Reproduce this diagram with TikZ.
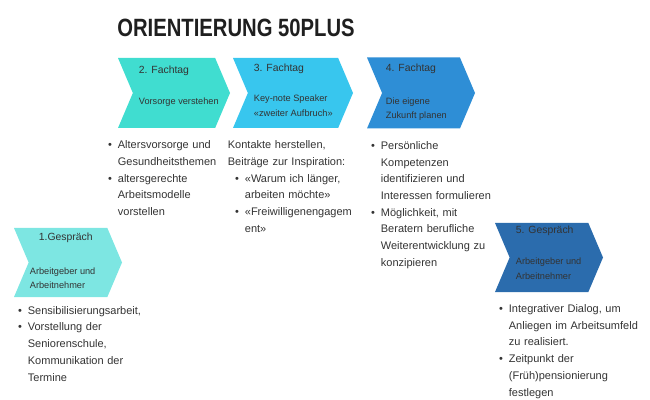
\documentclass[tikz,border=0pt]{standalone}
\usepackage{fontspec}
\setmainfont{Liberation Sans}
\usepackage{graphicx}
\usepackage{enumitem}
\usetikzlibrary{positioning,shapes.symbols}

\definecolor{ink}{HTML}{333333}
\definecolor{turqlight}{HTML}{7DE6E2}
\definecolor{turq}{HTML}{40DDD0}
\definecolor{sky}{HTML}{38C6EE}
\definecolor{azure}{HTML}{2E8ED6}
\definecolor{navy}{HTML}{2B6CAD}

\setlist[itemize]{nosep,leftmargin=10pt,labelsep=6pt,label=\textbullet}

\begin{document}
\begin{tikzpicture}
[x=1pt,y=1pt,node distance=119pt,text=ink,font=\fontsize{11}{16.7}\selectfont]
\tikzstyle{chev}=[signal, signal to=east, signal from=west, signal pointer angle=134, draw=none, inner sep=0pt, minimum width=108pt, minimum height=70pt]
\tikzstyle{head}=[inner sep=0pt, font=\fontsize{10.4}{12}\selectfont]
\tikzstyle{sub}=[inner sep=0pt, align=left, font=\fontsize{9.2}{14.5}\selectfont]
\tikzstyle{list}=[inner sep=0pt, text width=140pt, align=left]

\useasboundingbox (0,0) rectangle (650,399);

\node[font=\bfseries\fontsize{25}{30}\selectfont, text=black!88] (title) at (236,371) {\scalebox{0.81}[1]{ORIENTIERUNG 50PLUS}};

% Fachtage in einer Reihe
\node[chev, fill=turq, minimum width=112pt] (ft_2) at (174,306) {};
\node[chev, fill=sky, minimum width=120pt] (ft_3) [right of = ft_2] {};
\node[chev, fill=azure, minimum height=71pt] (ft_4) [right of = ft_3, node distance = 128pt] {};

% Gespraeche
\node[chev, fill=turqlight, minimum height=69pt] (gs_1) at (68,136.5) {};
\node[chev, fill=navy, minimum height=69pt] (gs_5) at (549,141.5) {};

% Titel und Untertitel in den Pfeilen (base = letzte Zeile)
\node[head] (ft_2_head) [below right = 15.5pt and 21pt of ft_2.north west, anchor=base west] {2. Fachtag};
\node[sub] (ft_2_sub) [below right = 46.5pt and 21pt of ft_2.north west, anchor=base west] {Vorsorge verstehen};
\node[head] (ft_3_head) [below right = 13.5pt and 21pt of ft_3.north west, anchor=base west] {3. Fachtag};
\node[sub, font=\fontsize{9.2}{15}\selectfont] (ft_3_sub) [below right = 58.5pt and 21pt of ft_3.north west, anchor=base west] {Key-note Speaker\\«zweiter Aufbruch»};
\node[head] (ft_4_head) [below right = 14pt and 19pt of ft_4.north west, anchor=base west] {4. Fachtag};
\node[sub, font=\fontsize{9.2}{13.5}\selectfont] (ft_4_sub) [below right = 61pt and 19pt of ft_4.north west, anchor=base west] {Die eigene\\Zukunft planen};
\node[head] (gs_1_head) [below right = 12.7pt and 25pt of gs_1.north west, anchor=base west] {1.Gespräch};
\node[sub, font=\fontsize{9.2}{14}\selectfont] (gs_1_sub) [below right = 60.3pt and 16pt of gs_1.north west, anchor=base west] {Arbeitgeber und\\Arbeitnehmer};
\node[head] (gs_5_head) [below right = 10.3pt and 21pt of gs_5.north west, anchor=base west] {5. Gespräch};
\node[sub, font=\fontsize{9.2}{15}\selectfont] (gs_5_sub) [below right = 56.3pt and 21pt of gs_5.north west, anchor=base west] {Arbeitgeber und\\Arbeitnehmer};

% Inhalte unter den Pfeilen
\node[list] (list_1) [below right = 0.3pt and 4pt of gs_1.south west, anchor=base west] {%
\begin{itemize}
\item Sensibilisierungsarbeit,
\item Vorstellung der\newline Seniorenschule,\newline Kommunikation der\newline Termine
\end{itemize}};
\node[list, text width=120pt] (list_2) [below right = 4pt and -10pt of ft_2.south west, anchor=base west] {%
\begin{itemize}
\item Altersvorsorge und\newline Gesundheitsthemen
\item altersgerechte\newline Arbeitsmodelle\newline vorstellen
\end{itemize}};
\node[list, text width=136pt] (list_3) [below right = 20.5pt and -5pt of ft_3.south west, anchor=base west] {%
Kontakte herstellen,\newline Beiträge zur Inspiration:
\begin{itemize}[leftmargin=17pt]
\item «Warum ich länger,\newline arbeiten möchte»
\item «Freiwilligenengagem\newline ent»
\end{itemize}};
\node[list, text width=125pt] (list_4) [below right = 4pt and 4pt of ft_4.south west, anchor=base west] {%
\begin{itemize}
\item Persönliche\newline Kompetenzen\newline identifizieren und\newline Interessen formulieren
\item Möglichkeit, mit\newline Beratern berufliche\newline Weiterentwicklung zu\newline konzipieren
\end{itemize}};
\node[list, text width=148pt] (list_5) [below right = 3.6pt and 4pt of gs_5.south west, anchor=base west] {%
\begin{itemize}
\item Integrativer Dialog, um\newline Anliegen im Arbeitsumfeld\newline zu realisiert.
\item Zeitpunkt der\newline (Früh)pensionierung\newline festlegen
\end{itemize}};
\end{tikzpicture}
\end{document}
